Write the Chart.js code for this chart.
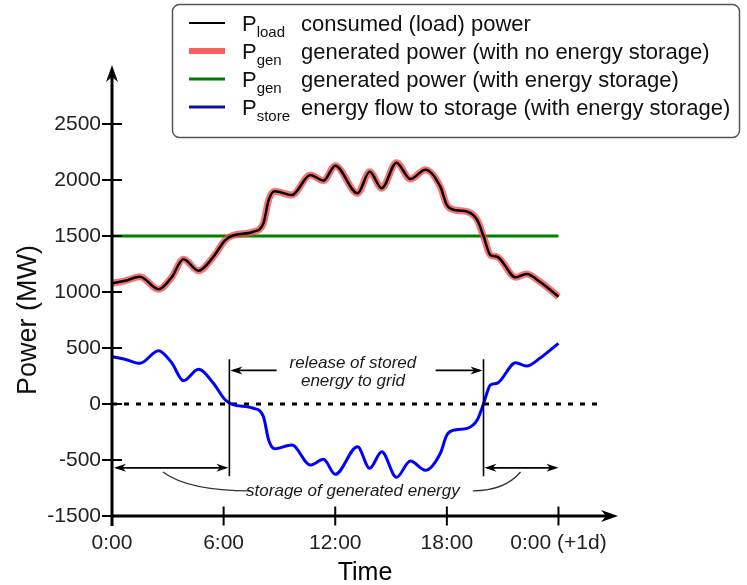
<!DOCTYPE html>
<html>
<head>
<meta charset="utf-8">
<script src="https://cdn.jsdelivr.net/npm/chart.js@4.4.1/dist/chart.umd.min.js"></script>
<style>
  html, body { margin: 0; padding: 0; background: #fff; }
  canvas { display: block; }
</style>
</head>
<body>
<canvas id="power-chart" width="747" height="585"></canvas>
<script>
// hours of the day and power values (MW)
const hours = [0, 0.7, 1.5, 2.5, 3.2, 3.84, 4.65, 5.45, 6.08, 6.5, 7.6, 8.14, 8.42, 8.75,
  9.67, 10.66, 11.37, 12.0, 13.2, 13.85, 14.5, 15.29, 16.04, 16.85, 17.65, 18.0, 18.5,
  19.1, 19.63, 19.98, 20.34, 20.7, 21.7, 22.28, 23.0, 24];
const loadPower = [1078, 1100, 1137, 1024, 1130, 1292, 1190, 1315, 1462, 1505, 1538, 1613, 1821, 1900,
  1866, 2045, 1994, 2128, 1881, 2074, 1926, 2155, 2008, 2092, 1940, 1777, 1730,
  1717, 1643, 1494, 1330, 1315, 1131, 1161, 1092, 958];
const storePower = [422, 400, 363, 476, 370, 208, 310, 185, 38, -5, -38, -113, -321, -400,
  -366, -545, -494, -628, -381, -574, -426, -655, -508, -592, -440, -277, -230,
  -217, -143, 6, 170, 185, 369, 339, 408, 542];
const genHours = [0, 24];
const genPower = [1500, 1500];
const zeroHours = [0, 26.4];
const zeroPower = [0, 0];

const timeTicks = [0, 6, 12, 18, 24];
const timeLabels = ['0:00', '6:00', '12:00', '18:00', '0:00 (+1d)'];
const powerTicks = [-1000, -500, 0, 500, 1000, 1500, 2000, 2500];
const powerLabels = ['-1500', '-500', '0', '500', '1000', '1500', '2000', '2500'];

const legendRows = [
  { sub: 'load', text: 'consumed (load) power', color: '#000', width: 2 },
  { sub: 'gen', text: 'generated power (with no energy storage)', color: 'rgba(245,70,70,0.85)', width: 6 },
  { sub: 'gen', text: 'generated power (with energy storage)', color: '#008000', width: 3 },
  { sub: 'store', text: 'energy flow to storage (with energy storage)', color: '#14149a', width: 3 },
];

const FONT = '"Liberation Sans", Arial, sans-serif';
const pts = (xs, ys) => xs.map((h, i) => ({ x: h, y: ys[i] }));

function arrowHead(ctx, tx, ty, dx, dy, len, half) {
  const nx = -dy, ny = dx;
  ctx.beginPath();
  ctx.moveTo(tx, ty);
  ctx.lineTo(tx - dx * len + nx * half, ty - dy * len + ny * half);
  ctx.lineTo(tx - dx * len * 0.7, ty - dy * len * 0.7);
  ctx.lineTo(tx - dx * len - nx * half, ty - dy * len - ny * half);
  ctx.closePath();
  ctx.fill();
}

const decor = {
  id: 'decor',
  afterDraw(chart) {
    const { ctx, scales: { x, y } } = chart;
    const px = v => x.getPixelForValue(v);
    const py = v => y.getPixelForValue(v);
    ctx.save();
    ctx.fillStyle = '#000';
    ctx.strokeStyle = '#000';

    // axes with arrows
    const x0 = px(0), yb = py(-1000);
    const xTip = px(27.2), yTip = py(3027);
    ctx.lineWidth = 3;
    ctx.beginPath();
    ctx.moveTo(x0, yb + 10); ctx.lineTo(x0, yTip + 8);
    ctx.moveTo(x0, yb); ctx.lineTo(xTip - 8, yb);
    ctx.stroke();
    arrowHead(ctx, x0, yTip, 0, -1, 17, 6);
    arrowHead(ctx, xTip, yb, 1, 0, 17, 6);
    ctx.lineWidth = 2;
    ctx.beginPath();
    timeTicks.forEach(t => { ctx.moveTo(px(t), yb - 9.5); ctx.lineTo(px(t), yb + 9.5); });
    powerTicks.forEach(v => { ctx.moveTo(x0 - 10, py(v)); ctx.lineTo(x0 + 10, py(v)); });
    ctx.stroke();

    // annotations (data units)
    const t1 = 6.31, t2 = 19.97;
    ctx.lineWidth = 1.6;
    ctx.beginPath();
    [t1, t2].forEach(t => { ctx.moveTo(px(t), py(400)); ctx.lineTo(px(t), py(-645)); });
    ctx.moveTo(px(8.85), py(300)); ctx.lineTo(px(t1) + 4, py(300));
    ctx.moveTo(px(17.4), py(300)); ctx.lineTo(px(t2) - 4, py(300));
    ctx.moveTo(px(0) + 4, py(-570)); ctx.lineTo(px(t1) - 4, py(-570));
    ctx.moveTo(px(t2) + 4, py(-570)); ctx.lineTo(px(24) - 4, py(-570));
    ctx.stroke();
    arrowHead(ctx, px(t1) + 1, py(300), -1, 0, 12, 4);
    arrowHead(ctx, px(t2) - 1, py(300), 1, 0, 12, 4);
    arrowHead(ctx, px(0) + 2, py(-570), -1, 0, 12, 4);
    arrowHead(ctx, px(t1) - 1, py(-570), 1, 0, 12, 4);
    arrowHead(ctx, px(t2) + 1, py(-570), -1, 0, 12, 4);
    arrowHead(ctx, px(24), py(-570), 1, 0, 12, 4);

    ctx.strokeStyle = '#333';
    ctx.lineWidth = 1.3;
    ctx.beginPath();
    ctx.moveTo(px(2.74), py(-607));
    ctx.quadraticCurveTo(px(4.1), py(-775), px(7.45), py(-775));
    ctx.moveTo(px(21.96), py(-607));
    ctx.quadraticCurveTo(px(21.1), py(-775), px(19.4), py(-775));
    ctx.stroke();

    ctx.fillStyle = '#1a1a1a';
    ctx.font = 'italic 17px ' + FONT;
    ctx.textAlign = 'center';
    ctx.textBaseline = 'middle';
    ctx.fillText('release of stored', px(12.95), py(366));
    ctx.fillText('energy to grid', px(12.95), py(205));
    ctx.fillText('storage of generated energy', px(12.95), py(-780));

    // legend
    ctx.fillStyle = '#fff';
    ctx.strokeStyle = '#555';
    ctx.lineWidth = 1.5;
    ctx.beginPath();
    ctx.roundRect(172.5, 4.5, 567, 133, 7);
    ctx.fill();
    ctx.stroke();
    ctx.textAlign = 'left';
    ctx.textBaseline = 'alphabetic';
    legendRows.forEach((r, i) => {
      const ry = 23 + i * 28;
      ctx.strokeStyle = r.color;
      ctx.lineWidth = r.width;
      ctx.beginPath();
      ctx.moveTo(189, ry); ctx.lineTo(225, ry);
      ctx.stroke();
      ctx.fillStyle = '#111';
      ctx.font = '22px ' + FONT;
      ctx.fillText('P', 242, ry + 8);
      const pw = ctx.measureText('P').width;
      ctx.font = '15px ' + FONT;
      ctx.fillText(r.sub, 242 + pw, ry + 14);
      ctx.font = '22px ' + FONT;
      ctx.fillText(r.text, 301, ry + 8);
    });
    ctx.restore();
  }
};

const ctx = document.getElementById('power-chart').getContext('2d');
const lineBase = { pointRadius: 0, fill: false };
window.powerChart = new Chart(ctx, {
  type: 'line',
  data: {
    datasets: [
      { ...lineBase, label: 'load', data: pts(hours, loadPower), borderColor: '#000', borderWidth: 2.5, cubicInterpolationMode: 'monotone' },
      { ...lineBase, label: 'gen no storage', data: pts(hours, loadPower), borderColor: 'rgba(245,70,70,0.75)', borderWidth: 7, cubicInterpolationMode: 'monotone' },
      { ...lineBase, label: 'gen with storage', data: pts(genHours, genPower), borderColor: '#008000', borderWidth: 3 },
      { ...lineBase, label: 'store', data: pts(hours, storePower), borderColor: '#0000ff', borderWidth: 3, cubicInterpolationMode: 'monotone' },
      { ...lineBase, label: 'zero', data: pts(zeroHours, zeroPower), borderColor: '#000', borderWidth: 3, borderDash: [5, 7] },
    ]
  },
  options: {
    responsive: false,
    animation: false,
    layout: { padding: { top: 124, right: 129, left: 0, bottom: 0 } },
    plugins: { legend: { display: false }, tooltip: { enabled: false } },
    scales: {
      x: {
        type: 'linear', min: 0, max: 27.2,
        afterFit(s) { s.height = 69; },
        grid: { display: false, drawTicks: false },
        border: { display: false },
        ticks: {
          stepSize: 6, includeBounds: false, autoSkip: false, maxRotation: 0, padding: 15,
          color: '#222', font: { family: FONT, size: 21 },
          callback(v) { const i = timeTicks.indexOf(v); return i < 0 ? null : timeLabels[i]; }
        },
        title: { display: true, text: 'Time', color: '#000', font: { family: FONT, size: 25 }, padding: { top: 0, bottom: -3 } }
      },
      y: {
        type: 'linear', min: -1000, max: 2500,
        afterFit(s) { s.width = 112; },
        grid: { display: false, drawTicks: false },
        border: { display: false },
        ticks: {
          stepSize: 500, autoSkip: false, padding: 11,
          color: '#222', font: { family: FONT, size: 21 },
          callback(v) { const i = powerTicks.indexOf(v); return i < 0 ? null : powerLabels[i]; }
        },
        title: { display: true, text: 'Power (MW)', color: '#111', font: { family: FONT, size: 27 }, padding: { top: 12, bottom: 0 } }
      }
    }
  },
  plugins: [decor]
});
</script>
</body>
</html>
